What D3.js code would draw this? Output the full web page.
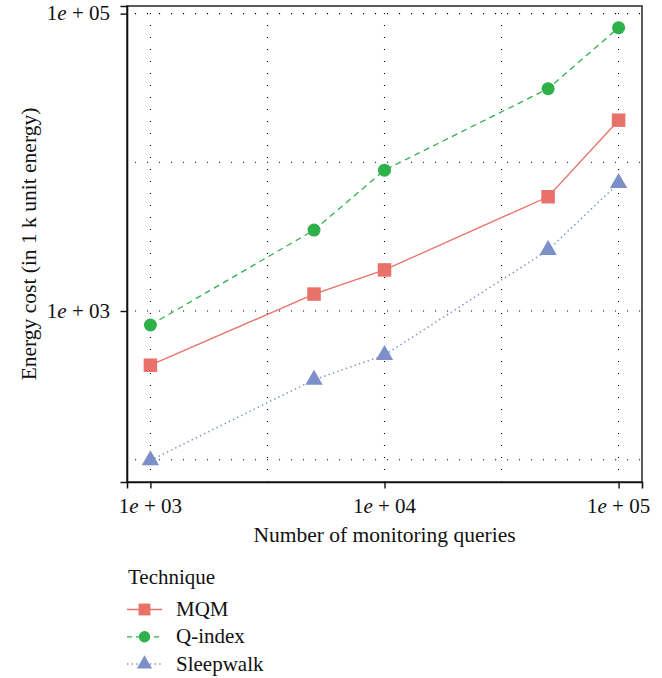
<!DOCTYPE html>
<html>
<head>
<meta charset="utf-8">
<script src="https://cdn.jsdelivr.net/npm/d3@7"></script>
<style>
  html, body { margin: 0; padding: 0; background: #fff; }
  svg { display: block; }
  text { font-family: "Liberation Serif", "Times New Roman", serif; fill: #111; }
</style>
</head>
<body>
<svg id="chart" width="662" height="678"></svg>
<script>
// ---- data ----
const queries = [1000, 5000, 10000, 50000, 100000];
const mqm = [432, 1300, 1890, 5870, 19200];
const qindex = [805, 3500, 8860, 31300, 80500];
const sleepwalk = [99, 345, 506, 2570, 7250];
const seriesNames = ["MQM", "Q-index", "Sleepwalk"];
const xTickValues = [1e3, 1e4, 1e5];
const xTickLabels = ["03", "04", "05"];
const yTickValues = [1e3, 1e5];
const yTickLabels = ["03", "05"];
const xGridValues = [1e3, Math.pow(10, 3.5), 1e4, Math.pow(10, 4.5), 1e5];
const yGridValues = [1e2, 1e3, 1e4, 1e5];

// ---- styles ----
const colors = { "MQM": "#E8716A", "Q-index": "#2EB04B", "Sleepwalk": "#7C8FC9" };
const dashes = { "MQM": null, "Q-index": "6,4.5", "Sleepwalk": "1.4,3.2" };
const shapes = { "MQM": d3.symbolSquare, "Q-index": d3.symbolCircle, "Sleepwalk": "triangle" };

const svg = d3.select("#chart");
const P = { left: 127, right: 642, top: 6, bottom: 482 };

// log-space 5% expansion, like ggplot
function logDomain(vals) {
  const l = vals.map(v => Math.log10(v));
  const mn = d3.min(l), mx = d3.max(l), pad = 0.05 * (mx - mn);
  return [Math.pow(10, mn - pad), Math.pow(10, mx + pad)];
}
const x = d3.scaleLog().domain(logDomain(queries)).range([P.left, P.right]);
const y = d3.scaleLog().domain(logDomain(mqm.concat(qindex, sleepwalk))).range([P.bottom, P.top]);

// grid
const grid = svg.append("g");
grid.selectAll("line.gx").data(xGridValues).enter().append("line")
  .attr("x1", d => x(d)).attr("x2", d => x(d))
  .attr("y1", P.bottom).attr("y2", P.top)
  .attr("stroke", "#000").attr("stroke-width", 1.1).attr("stroke-dasharray", "1.1,10.9");
grid.selectAll("line.gy").data(yGridValues).enter().append("line")
  .attr("y1", d => y(d)).attr("y2", d => y(d))
  .attr("x1", P.left + 8).attr("x2", P.right)
  .attr("stroke", "#000").attr("stroke-width", 1.1).attr("stroke-dasharray", "1.1,10.9");

// frame
svg.append("rect").attr("x", P.left).attr("y", P.top)
  .attr("width", P.right - P.left).attr("height", P.bottom - P.top)
  .attr("fill", "none").attr("stroke", "#333").attr("stroke-width", 1.6);

// axes
const xAxis = svg.append("g").attr("transform", `translate(0,${P.bottom})`)
  .call(d3.axisBottom(x).tickValues(xTickValues).tickSize(6.5).tickFormat(""));
const yAxis = svg.append("g").attr("transform", `translate(${P.left},0)`)
  .call(d3.axisLeft(y).tickValues(yTickValues).tickSize(6.5).tickFormat(""));
[xAxis, yAxis].forEach(a => {
  a.select(".domain").attr("stroke", "#111").attr("stroke-width", 1.6);
  a.selectAll(".tick line").attr("stroke", "#111").attr("stroke-width", 1.4);
});

function sciLabel(sel, exp) {
  sel.append("tspan").text("1");
  sel.append("tspan").attr("font-style", "italic").text("e");
  sel.append("tspan").text(" + " + exp);
}
xTickValues.forEach((v, i) => {
  const t = svg.append("text").attr("x", x(v)).attr("y", 512.5)
    .attr("text-anchor", "middle").attr("font-size", 21);
  sciLabel(t, xTickLabels[i]);
});
yTickValues.forEach((v, i) => {
  const t = svg.append("text").attr("x", 110).attr("y", y(v) + 6.8)
    .attr("text-anchor", "end").attr("font-size", 21);
  sciLabel(t, yTickLabels[i]);
});

// axis titles
svg.append("text").attr("x", (P.left + P.right) / 2).attr("y", 542)
  .attr("text-anchor", "middle").attr("font-size", 21.5)
  .text("Number of monitoring queries");
svg.append("text").attr("transform", `translate(36,${(P.top + P.bottom) / 2}) rotate(-90)`)
  .attr("text-anchor", "middle").attr("font-size", 21.5)
  .text("Energy cost (in 1 k unit energy)");

// symbols
function drawSymbol(g, name, cx, cy, scale) {
  const col = colors[name];
  if (shapes[name] === "triangle") {
    const r = 10 * scale, hw = 8.66 * scale;
    g.append("path")
      .attr("d", `M${cx},${cy - r}L${cx + hw},${cy + r / 2}L${cx - hw},${cy + r / 2}Z`)
      .attr("fill", col);
  } else if (name === "MQM") {
    const s = 13.5 * scale;
    g.append("rect").attr("x", cx - s / 2).attr("y", cy - s / 2)
      .attr("width", s).attr("height", s).attr("fill", col);
  } else {
    g.append("circle").attr("cx", cx).attr("cy", cy).attr("r", 6.5 * scale).attr("fill", col);
  }
}

const seriesData = { "MQM": mqm, "Q-index": qindex, "Sleepwalk": sleepwalk };
const line = d3.line().x(d => x(d[0])).y(d => y(d[1]));
const plot = svg.append("g");
seriesNames.forEach(name => {
  const pts = queries.map((q, i) => [q, seriesData[name][i]]);
  plot.append("path").datum(pts).attr("d", line)
    .attr("fill", "none").attr("stroke", colors[name])
    .attr("stroke-width", name === "Sleepwalk" ? 1.5 : 1.3)
    .attr("stroke-dasharray", dashes[name]);
});
seriesNames.forEach(name => {
  queries.forEach((q, i) => drawSymbol(plot, name, x(q), y(seriesData[name][i]), 1));
});

// legend
const lg = svg.append("g");
lg.append("text").attr("x", 128).attr("y", 584).attr("font-size", 21).text("Technique");
seriesNames.forEach((name, i) => {
  const cy = 609.5 + i * 27.3;
  lg.append("line").attr("x1", 127).attr("x2", 162).attr("y1", cy).attr("y2", cy)
    .attr("stroke", colors[name]).attr("stroke-width", name === "Sleepwalk" ? 1.5 : 1.3)
    .attr("stroke-dasharray", name === "Q-index" ? "5,4" : dashes[name]);
  drawSymbol(lg, name, 144.5, cy, 0.88);
  lg.append("text").attr("x", 176).attr("y", cy + 6.5).attr("font-size", 21).text(name);
});
</script>
</body>
</html>
